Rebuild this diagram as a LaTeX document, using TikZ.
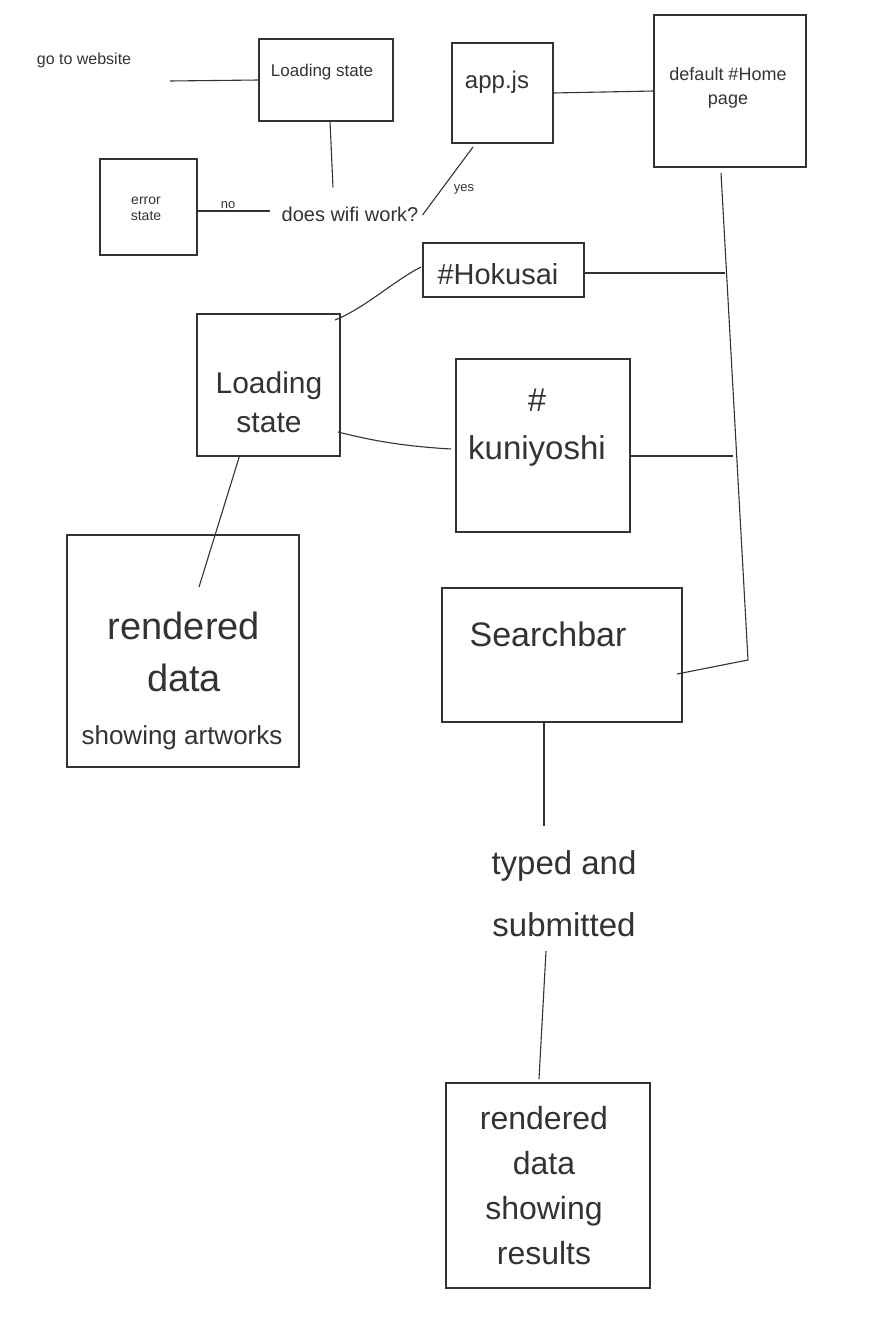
\documentclass[tikz,border=0pt]{standalone}
\usepackage{fontspec}
\setmainfont{Liberation Sans}
\definecolor{ink}{HTML}{333333}
\begin{document}
\begin{tikzpicture}[x=1pt,y=-1pt,
  box/.style={draw=ink,line width=1.2pt,rectangle,inner sep=0pt,outer sep=0pt},
  wire/.style={draw=ink,line width=1.1pt},
  txt/.style={text=ink,inner sep=0pt,align=center},
  lbl/.style={text=ink,inner sep=2pt,align=center}]
\useasboundingbox (0,0) rectangle (887,1330);
% boxes
\node[box,minimum width=134pt,minimum height=82pt] (ls1) at (326,80) {};
\node[box,minimum width=101pt,minimum height=100pt] (app) at (502.5,93) {};
\node[box,minimum width=152pt,minimum height=152pt] (home) at (730,91) {};
\node[box,minimum width=97pt,minimum height=96pt] (err) at (148.5,207) {};
\node[box,minimum width=161pt,minimum height=54pt] (hok) at (503.5,270) {};
\node[box,minimum width=143pt,minimum height=142pt] (ls2) at (268.5,385) {};
\node[box,minimum width=174pt,minimum height=173pt] (kun) at (543,445.5) {};
\node[box,minimum width=232pt,minimum height=232pt] (rd1) at (183,651) {};
\node[box,minimum width=240pt,minimum height=134pt] (sb) at (562,655) {};
\node[box,minimum width=204pt,minimum height=205pt] (rd2) at (548,1185.5) {};
% texts
\node[txt,font=\fontsize{16}{18}\selectfont] (go) at (84,60) {go to website};
\node[txt,font=\fontsize{17}{20}\selectfont] (t1) at (322,72) {Loading state};
\node[txt,font=\fontsize{24}{28}\selectfont] (t2) at (497,82) {app.js};
\node[txt,font=\fontsize{18}{24}\selectfont] (t3) at (728,88) {default \#Home\\page};
\node[txt,font=\fontsize{14}{16}\selectfont] (t4) at (146,209) {error\\state};
\node[lbl,font=\fontsize{13}{14}\selectfont] (no) at (228,205) {no};
\node[lbl,font=\fontsize{20}{22}\selectfont] (wifi) at (350,214) {does wifi work?};
\node[lbl,font=\fontsize{13}{14}\selectfont] (yes) at (464,189) {yes};
\node[txt,font=\fontsize{29}{32}\selectfont] (t5) at (498,274) {\#Hokusai};
\node[txt,font=\fontsize{30}{39}\selectfont] (t6) at (269,402) {Loading\\state};
\node[txt,font=\fontsize{33}{48}\selectfont] (t7) at (537,428) {\#\\kuniyoshi};
\node[txt,font=\fontsize{38}{52}\selectfont] (t8) at (184,652) {rendered\\data};
\node[txt,font=\fontsize{26}{30}\selectfont] (t9) at (182,738) {showing artworks};
\node[txt,font=\fontsize{34}{38}\selectfont] (t10) at (548,634) {Searchbar};
\node[txt,font=\fontsize{33}{62}\selectfont,outer sep=14pt] (typed) at (564,894) {typed and\\submitted};
\node[txt,font=\fontsize{32}{45}\selectfont] (t11) at (544,1186) {rendered\\data\\showing\\results};
% free ends
\coordinate (goend) at (170,81);
\coordinate (vtop) at (721,173);
\coordinate (vbot) at (748,660);
\coordinate (hj) at (725,273);
\coordinate (kj) at (733,456);
\coordinate (rdin) at (199,587);
% connectors
\draw[wire] (goend) -- (ls1.west);
\draw[wire] ([xshift=4pt]ls1.south) -- ([xshift=-17pt,yshift=17pt]wifi.north);
\draw[wire] (err.east |- 0,211) -- (270,211);
\draw[wire] ([xshift=2pt,yshift=-1pt]wifi.east) -- ([xshift=21pt,yshift=-4pt]app.south west);
\draw[wire] (app.east) -- (home.west);
\draw[wire] (vtop) -- (vbot) -- ([xshift=-5pt,yshift=-19pt]sb.east);
\draw[wire] ([yshift=-3pt]hok.east) -- (hj);
\draw[wire] ([yshift=-10.5pt]kun.east) -- (kj);
\draw[wire] ([xshift=-2pt,yshift=3pt]hok.west) .. controls (395,280) and (365,308) .. ([xshift=-5pt,yshift=-6pt]ls2.north east);
\draw[wire] ([xshift=-2pt,yshift=-47pt]ls2.east) .. controls (370,440) and (400,446) .. ([xshift=-5pt,yshift=-3.5pt]kun.west);
\draw[wire] ([xshift=-29pt]ls2.south) -- (rdin);
\draw[wire] ([xshift=-18pt]sb.south) -- ([xshift=-20pt,yshift=11pt]typed.north);
\draw[wire] ([xshift=-18pt]typed.south) -- ([xshift=-9pt,yshift=4pt]rd2.north);
\end{tikzpicture}
\end{document}
